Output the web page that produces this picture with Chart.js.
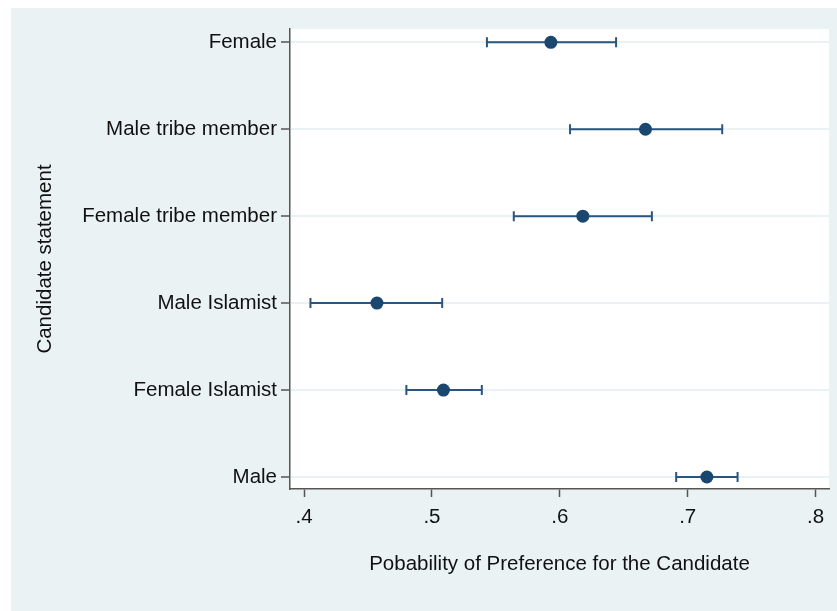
<!DOCTYPE html>
<html>
<head>
<meta charset="utf-8">
<script src="https://cdn.jsdelivr.net/npm/chart.js@4.4.1/dist/chart.umd.min.js"></script>
<style>
  body { margin: 0; background: #ffffff; }
  #chart { display: block; }
</style>
</head>
<body>
<canvas id="chart" width="837" height="611"></canvas>
<script>
const categories = ['Female', 'Male tribe member', 'Female tribe member', 'Male Islamist', 'Female Islamist', 'Male'];
const estimates = [0.593, 0.667, 0.618, 0.457, 0.509, 0.715];
const lowerCI = [0.543, 0.608, 0.564, 0.405, 0.480, 0.691];
const upperCI = [0.644, 0.727, 0.672, 0.508, 0.539, 0.739];
const xTicks = [0.4, 0.5, 0.6, 0.7, 0.8];

const navy = '#1a476f';
const fontFamily = '"Liberation Sans", Arial, Helvetica, sans-serif';

// grey backdrop behind the plot, white plot region
const backdrop = {
  id: 'backdrop',
  beforeDraw(chart) {
    const { ctx, chartArea } = chart;
    ctx.save();
    ctx.fillStyle = '#eaf2f3';
    ctx.fillRect(11, 8, chart.width - 11, chart.height - 8);
    ctx.fillStyle = '#ffffff';
    ctx.fillRect(chartArea.left, chartArea.top, chartArea.right - chartArea.left, chartArea.bottom - chartArea.top);
    ctx.restore();
  }
};

// confidence intervals with caps, drawn under the dots
const errorBars = {
  id: 'errorBars',
  beforeDatasetsDraw(chart) {
    const { ctx, scales: { x, y } } = chart;
    ctx.save();
    ctx.strokeStyle = '#2a5580';
    ctx.lineWidth = 2;
    categories.forEach((c, i) => {
      const py = y.getPixelForValue(i);
      const x0 = x.getPixelForValue(lowerCI[i]);
      const x1 = x.getPixelForValue(upperCI[i]);
      ctx.beginPath();
      ctx.moveTo(x0, py);
      ctx.lineTo(x1, py);
      ctx.moveTo(x0, py - 5);
      ctx.lineTo(x0, py + 5);
      ctx.moveTo(x1, py - 5);
      ctx.lineTo(x1, py + 5);
      ctx.stroke();
    });
    ctx.restore();
  }
};

const ctx = document.getElementById('chart').getContext('2d');
const chart = new Chart(ctx, {
  type: 'scatter',
  data: {
    datasets: [{
      data: estimates.map((v, i) => ({ x: v, y: i })),
      backgroundColor: navy,
      borderColor: navy,
      borderWidth: 0,
      pointRadius: 6.5,
      pointHoverRadius: 6.5
    }]
  },
  options: {
    responsive: false,
    animation: false,
    devicePixelRatio: 1,
    layout: { padding: { left: 0, top: 29, right: 8, bottom: 0 } },
    plugins: {
      legend: { display: false },
      tooltip: { enabled: false }
    },
    scales: {
      x: {
        type: 'linear',
        min: 0.389,
        max: 0.8105,
        afterBuildTicks: s => { s.ticks = xTicks.map(v => ({ value: v })); },
        afterFit: s => { s.height = 122; },
        ticks: {
          callback: v => v.toFixed(1).replace(/^0/, ''),
          color: '#111111',
          font: { family: fontFamily, size: 20.5 },
          padding: 8,
          maxRotation: 0
        },
        grid: { drawOnChartArea: false, drawTicks: true, tickLength: 8, tickColor: '#555555', tickWidth: 1.5 },
        border: { color: '#555555', width: 1.5 },
        title: {
          display: true,
          text: 'Pobability of Preference for the Candidate',
          color: '#111111',
          font: { family: fontFamily, size: 20.5 },
          padding: { top: 0, bottom: 34 }
        }
      },
      y: {
        type: 'linear',
        reverse: true,
        min: -0.153,
        max: 5.138,
        afterBuildTicks: s => { s.ticks = categories.map((c, i) => ({ value: i })); },
        afterFit: s => { s.width = 290; },
        ticks: {
          callback: v => categories[v],
          color: '#111111',
          font: { family: fontFamily, size: 20.5 },
          padding: 4,
          autoSkip: false
        },
        grid: { color: '#eaf2f3', lineWidth: 2, drawTicks: true, tickLength: 9, tickColor: '#555555', tickWidth: 1.5 },
        border: { color: '#555555', width: 1.5 },
        title: {
          display: true,
          text: 'Candidate statement',
          color: '#111111',
          font: { family: fontFamily, size: 20.5 },
          padding: { top: 33, bottom: 0 }
        }
      }
    }
  },
  plugins: [backdrop, errorBars]
});
</script>
</body>
</html>
